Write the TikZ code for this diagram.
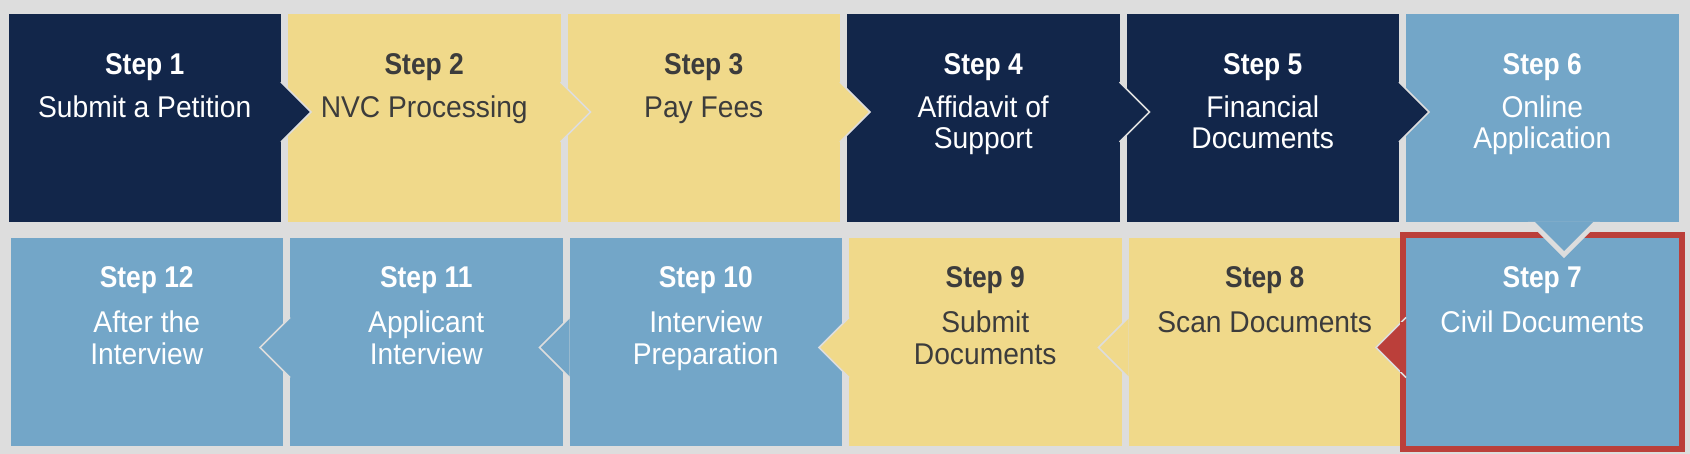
\documentclass[tikz,border=0pt]{standalone}
\usepackage{fontspec}
\setmainfont{Liberation Sans}[FakeStretch=0.94, BoldFeatures={FakeStretch=0.88}]
\usetikzlibrary{calc}
\definecolor{navy}{HTML}{12264A}
\definecolor{sand}{HTML}{F0D98A}
\definecolor{sky}{HTML}{73A6C8}
\definecolor{bggray}{HTML}{DDDDDD}
\definecolor{brick}{HTML}{BB3F3A}
\definecolor{darktext}{HTML}{3C3C3C}
\begin{document}
\begin{tikzpicture}[x=1pt,y=-1pt,
  box/.style={rectangle, inner sep=0pt, outer sep=0pt, minimum width=272.5pt, minimum height=208pt, draw=none},
  txt/.style={anchor=base, inner sep=0pt, font=\fontsize{30}{36}\selectfont},
  ttl/.style={txt, font=\fontsize{30}{36}\selectfont\bfseries},
  tri/.style={line width=1.5pt, line join=miter},
  frame/.style={draw=brick, line width=6pt}]
\fill[bggray] (0,0) rectangle (1690,454);
\useasboundingbox (0,0) rectangle (1690,454);
% top row boxes
\node[box, fill=navy] (b1) at (144.75,118) {};
\node[box, fill=sand] (b2) at (424.25,118) {};
\node[box, fill=sand] (b3) at (703.75,118) {};
\node[box, fill=navy] (b4) at (983.25,118) {};
\node[box, fill=navy] (b5) at (1262.75,118) {};
\node[box, fill=sky] (b6) at (1542.25,118) {};
% bottom row boxes
\node[box, fill=sky] (b12) at (146.75,342) {};
\node[box, fill=sky] (b11) at (426.25,342) {};
\node[box, fill=sky] (b10) at (705.75,342) {};
\node[box, fill=sand] (b9) at (985.25,342) {};
\node[box, fill=sand] (b8) at (1264.75,342) {};
\node[box, fill=sky] (b7) at (1542.25,342) {};
\draw[frame] ($(b7.north west)+(-3,-3)$) rectangle ($(b7.south east)+(3,3)$);
% right-pointing triangles (top row)
\foreach \s/\c in {b1/navy, b2/sand, b3/sand, b4/navy, b5/navy}{
  \fill[\c] ($(\s.east)+(0,-36)$) -- ($(\s.east)+(30,-6)$) -- ($(\s.east)+(0,24)$) -- cycle;
  \draw[tri, bggray] ($(\s.east)+(0,-36)$) -- ($(\s.east)+(30,-6)$) -- ($(\s.east)+(0,24)$);
}
% down triangle from step 6 into step 7
\fill[bggray] ($(b6.south)+(21.75-36.1,0)$) -- ($(b6.south)+(21.75,36.1)$) -- ($(b6.south)+(21.75+36.1,0)$) -- cycle;
\fill[sky] ($(b6.south)+(21.75-29,0)$) -- ($(b6.south)+(21.75,29)$) -- ($(b6.south)+(21.75+29,0)$) -- cycle;
% left-pointing triangles (bottom row)
\foreach \s/\c in {b7/brick, b8/sand, b9/sand, b10/sky, b11/sky}{
  \fill[\c] ($(\s.west)+(0,-24.5)$) -- ($(\s.west)+(-30,5.5)$) -- ($(\s.west)+(0,35.5)$) -- cycle;
  \draw[tri, bggray] ($(\s.west)+(0,-24.5)$) -- ($(\s.west)+(-30,5.5)$) -- ($(\s.west)+(0,35.5)$);
}
\fill[brick] ($(b7.west)+(-6,-20)$) rectangle ($(b7.west)+(0,30)$);
% texts, top row
\node[ttl, white] (t1) at (144.75,75) {Step 1};
\node[txt, white] (s1) at (144.75,118) {Submit a Petition};
\node[ttl, darktext] (t2) at (424.25,75) {Step 2};
\node[txt, darktext] (s2) at (424.25,118) {NVC Processing};
\node[ttl, darktext] (t3) at (703.75,75) {Step 3};
\node[txt, darktext] (s3) at (703.75,118) {Pay Fees};
\node[ttl, white] (t4) at (983.25,75) {Step 4};
\node[txt, white] (s4a) at (983.25,118) {Affidavit of};
\node[txt, white] (s4b) at (983.25,149) {Support};
\node[ttl, white] (t5) at (1262.75,75) {Step 5};
\node[txt, white] (s5a) at (1262.75,118) {Financial};
\node[txt, white] (s5b) at (1262.75,149) {Documents};
\node[ttl, white] (t6) at (1542.25,75) {Step 6};
\node[txt, white] (s6a) at (1542.25,118) {Online};
\node[txt, white] (s6b) at (1542.25,149) {Application};
% texts, bottom row
\node[ttl, white] (t12) at (146.75,288) {Step 12};
\node[txt, white] (s12a) at (146.75,333) {After the};
\node[txt, white] (s12b) at (146.75,364) {Interview};
\node[ttl, white] (t11) at (426.25,288) {Step 11};
\node[txt, white] (s11a) at (426.25,333) {Applicant};
\node[txt, white] (s11b) at (426.25,364) {Interview};
\node[ttl, white] (t10) at (705.75,288) {Step 10};
\node[txt, white] (s10a) at (705.75,333) {Interview};
\node[txt, white] (s10b) at (705.75,364) {Preparation};
\node[ttl, darktext] (t9) at (985.25,288) {Step 9};
\node[txt, darktext] (s9a) at (985.25,333) {Submit};
\node[txt, darktext] (s9b) at (985.25,364) {Documents};
\node[ttl, darktext] (t8) at (1264.75,288) {Step 8};
\node[txt, darktext] (s8) at (1264.75,333) {Scan Documents};
\node[ttl, white] (t7) at (1542.25,288) {Step 7};
\node[txt, white] (s7) at (1542.25,333) {Civil Documents};
\end{tikzpicture}
\end{document}
